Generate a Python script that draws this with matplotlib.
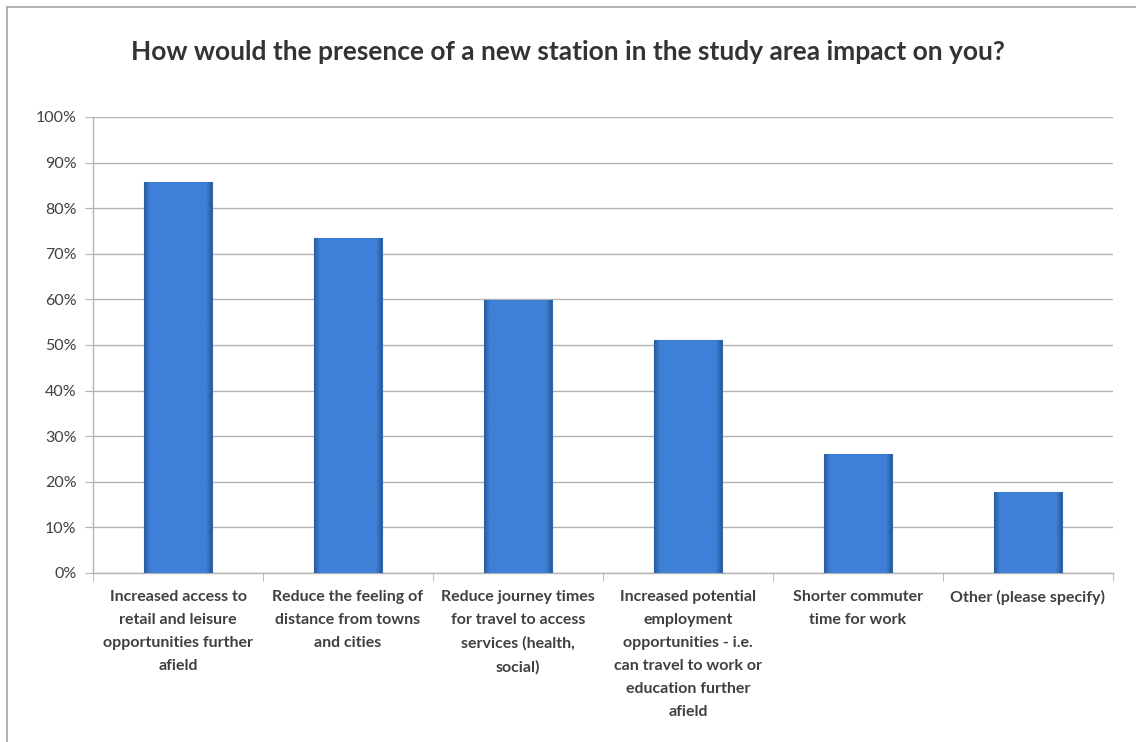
import matplotlib.pyplot as plt
from matplotlib.lines import Line2D
from matplotlib.colors import to_rgb
from matplotlib.ticker import FuncFormatter, MultipleLocator
import numpy as np

# Survey responses (share of respondents)
categories = [
    'Increased access to\nretail and leisure\nopportunities further\nafield',
    'Reduce the feeling of\ndistance from towns\nand cities',
    'Reduce journey times\nfor travel to access\nservices (health,\nsocial)',
    'Increased potential\nemployment\nopportunities - i.e.\ncan travel to work or\neducation further\nafield',
    'Shorter commuter\ntime for work',
    'Other (please specify)',
]
values = [85.7, 73.4, 59.9, 51.0, 26.0, 17.8]
title = 'How would the presence of a new station in the study area impact on you?'

W, H = 1136, 742
fig = plt.figure(figsize=(W / 100, H / 100), dpi=100)
fig.patch.set_facecolor('white')

# Outer frame (only top and left edges visible)
fig.add_artist(Line2D([7 / W, 7 / W], [0, 1 - 7 / H], color='#a6a6a6', lw=1.2))
fig.add_artist(Line2D([7 / W, 1], [1 - 7 / H, 1 - 7 / H], color='#a6a6a6', lw=1.2))

ax = fig.add_axes([93 / W, (H - 573) / H, 1020 / W, 456 / H])

x = np.arange(len(categories))
bar_w = 0.4
bars = ax.bar(x, values, width=bar_w, color='#3d7fd6', edgecolor='#2f66ad',
              linewidth=0.8, zorder=3)

# bevel-like shading: darker at the sides, flat in the middle
t = np.linspace(0, 1, 60)
edge = np.clip(np.minimum(t, 1 - t) / 0.08, 0, 1)
dark, mid = np.array(to_rgb('#2a5d9f')), np.array(to_rgb('#3e80d7'))
shade = (dark[None, :] * (1 - edge[:, None]) + mid[None, :] * edge[:, None])[None, :, :]
for b in bars:
    im = ax.imshow(shade, extent=(b.get_x(), b.get_x() + b.get_width(), 0, b.get_height()),
                   aspect='auto', interpolation='bilinear', zorder=3.5)
    im.set_clip_path(b)

ax.set_xlim(-0.5, len(categories) - 0.5)
ax.set_ylim(0, 100)
ax.yaxis.set_major_locator(MultipleLocator(10))
ax.yaxis.set_major_formatter(FuncFormatter(lambda v, p: f'{v:.0f}%'))
ax.grid(axis='y', color='#b3b3b3', linewidth=1, zorder=0)

for side in ['top', 'right']:
    ax.spines[side].set_visible(False)
for side in ['left', 'bottom']:
    ax.spines[side].set_color('#b3b3b3')
    ax.spines[side].set_linewidth(1)

ax.set_xticks(x)
ax.set_xticklabels(categories, fontsize=11.5, fontweight='bold', color='#404040',
                   family='Lato', linespacing=1.82, va='top')
ax.set_xticks(np.arange(-0.5, len(categories), 1), minor=True)
ax.tick_params(axis='x', which='major', length=0, pad=12)
ax.tick_params(axis='x', which='minor', length=6, color='#b3b3b3')
ax.tick_params(axis='y', length=6, color='#b3b3b3', labelsize=11.5, labelcolor='#404040', pad=6)
for lab in ax.get_yticklabels():
    lab.set_family('Lato')

fig.text(568 / W, 1 - 52 / H, title, ha='center', va='center', fontsize=19,
         fontweight='bold', color='#333333', family='Lato')

fig.savefig('out.png', dpi=100)
